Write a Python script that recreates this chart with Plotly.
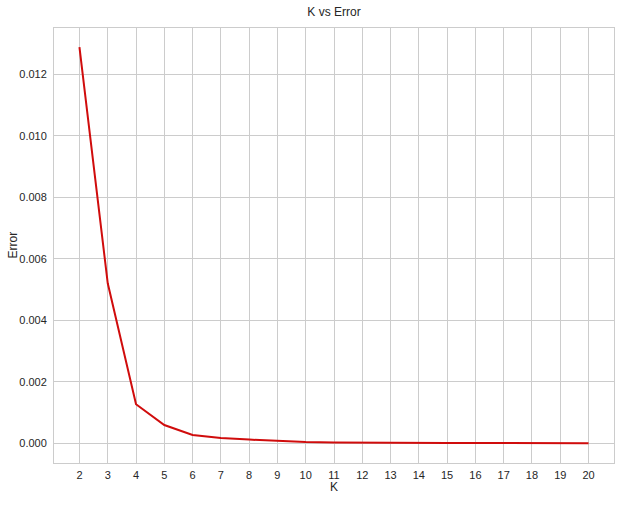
import plotly.graph_objects as go

k_values = list(range(2, 21))
error_values = [0.01288, 0.0052, 0.00127, 0.000595, 0.00027, 0.00017, 0.00012,
                0.000075, 0.00004, 0.00003, 0.00002, 0.000015, 0.00001, 0.00001,
                0.000008, 0.000006, 0.000005, 0.000004, 0.000003]
x_ticks = list(range(2, 21))
y_ticks = [0.0, 0.002, 0.004, 0.006, 0.008, 0.010, 0.012]
y_tick_labels = ["0.000", "0.002", "0.004", "0.006", "0.008", "0.010", "0.012"]

W, H = 628, 505
L, R, T, B = 54, 14, 28, 42
PW, PH = W - L - R, H - T - B

fig = go.Figure()
fig.add_trace(go.Scatter(x=k_values, y=error_values, mode="lines",
                         line=dict(color="rgb(208,12,12)", width=2), showlegend=False))

txt = "#262626"
font = dict(family="Liberation Sans, Arial, sans-serif", size=11, color=txt)
fig.update_layout(
    width=W, height=H,
    margin=dict(l=L, r=R, t=T, b=B, autoexpand=False),
    paper_bgcolor="white", plot_bgcolor="white",
    font=font,
    title=dict(text="K vs Error", x=0.5, xref="paper", y=1 - 12 / H, yref="container",
               yanchor="middle", font=dict(size=12, color=txt)),
    xaxis=dict(range=[1.1, 20.9], tickvals=x_ticks, showgrid=True, gridcolor="#cccccc", gridwidth=1,
               showline=True, linecolor="#cccccc", linewidth=1, mirror=True, zeroline=False,
               ticks="", ticklabelstandoff=2, automargin=False),
    yaxis=dict(range=[-0.00064, 0.01350], tickvals=y_ticks, ticktext=y_tick_labels,
               showgrid=True, gridcolor="#cccccc", gridwidth=1,
               showline=True, linecolor="#cccccc", linewidth=1, mirror=True, zeroline=False,
               ticks="", ticklabelstandoff=4, automargin=False),
    annotations=[
        dict(text="Error", textangle=-90, xref="paper", yref="paper",
             x=(12 - L) / PW, y=0.5, xanchor="center", yanchor="middle",
             showarrow=False, font=dict(size=12, color=txt)),
        dict(text="K", xref="paper", yref="paper",
             x=0.5, y=-(487 - (H - B)) / PH, xanchor="center", yanchor="middle",
             showarrow=False, font=dict(size=12, color=txt)),
    ],
)

fig.write_html("out.html", config={"displayModeBar": False},
               post_script="document.body.style.margin='0px';")
